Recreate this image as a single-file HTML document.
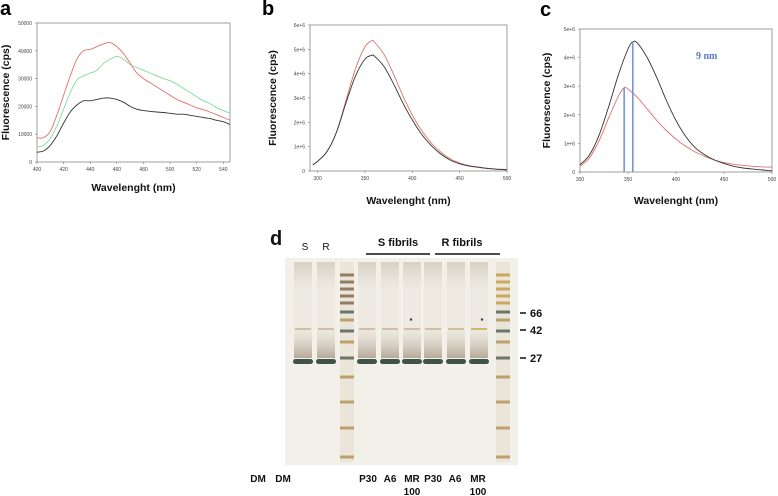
<!DOCTYPE html>
<html><head><meta charset="utf-8"><style>
html,body{margin:0;padding:0;background:#fff;}
svg{display:block;font-family:"Liberation Sans",Arial,sans-serif;}
</style></head><body>
<svg id="fig" width="778" height="496" viewBox="0 0 778 496">
<defs>
<linearGradient id="smear" x1="0" y1="0" x2="0" y2="1">
<stop offset="0" stop-color="#b5ab95" stop-opacity="0.45"/>
<stop offset="0.3" stop-color="#d8d2c2" stop-opacity="0.2"/>
<stop offset="0.7" stop-color="#d8d0c0" stop-opacity="0.2"/>
<stop offset="1" stop-color="#9a8a76" stop-opacity="0.7"/>
</linearGradient>
</defs>
<g id="g-a"></g>
<g id="g-b"></g>
<g id="g-c"></g>
<g id="g-d"></g>
</svg>
<script>
// Panel a data
const aWave=[400,405,410,415,420,425,430,435,440,445,450,455,460,465,470,475,480,485,490,495,500,505,510,515,520,525,530,535,540,545];
const aBlack=[3500,4000,6000,9500,14000,18000,20500,22000,22000,22500,23000,23000,22500,21500,20000,19000,18500,18200,18000,17800,17500,17200,17200,16800,16400,16000,15600,15000,14500,13500];
const aRed=[8700,8800,11000,17000,24000,31000,37000,40000,40500,41500,42500,43000,41500,39000,35500,32000,30000,28500,27000,25500,24000,22500,21500,20500,19500,18800,18000,17000,16000,15000];
const aGreen=[5300,6000,8500,13000,19000,25000,29500,31000,32000,33000,35500,37000,38000,37000,35000,34000,33000,32000,31000,30000,29200,28000,26500,25000,23500,22000,21000,19500,18500,17500];
const aXTicks=[400,420,440,460,480,500,520,540];
const aYTicks=[0,10000,20000,30000,40000,50000];
const aYLabels=["0","10000","20000","30000","40000","50000"];
// Panel b data (x1e6)
const bWave=[295,300,310,320,330,340,350,357,360,370,380,390,400,410,420,430,440,450,460,470,480,490,500];
const bBlack=[0.25,0.4,0.8,1.6,2.8,3.9,4.6,4.75,4.72,4.3,3.6,2.8,2.1,1.5,1.05,0.7,0.45,0.3,0.2,0.15,0.1,0.07,0.05];
const bRed=[0.25,0.4,0.8,1.6,2.9,4.2,5.1,5.35,5.3,4.8,4.0,3.1,2.3,1.65,1.15,0.78,0.5,0.33,0.22,0.16,0.11,0.08,0.06];
const bXTicks=[300,350,400,450,500];
const bYTicks=[0,1,2,3,4,5,6];
const bYLabels=["0","1e+6","2e+6","3e+6","4e+6","5e+6","6e+6"];
// Panel c data (x1e6)
const cWaveK=[300,310,320,330,340,350,355,360,370,380,390,400,410,420,430,440,450,460,470,480,490,500];
const cBlack=[0.25,0.6,1.3,2.3,3.4,4.3,4.55,4.5,4.0,3.3,2.5,1.8,1.25,0.85,0.6,0.42,0.3,0.2,0.14,0.1,0.07,0.04];
const cWaveR=[300,310,320,330,340,346,350,360,370,380,390,400,410,420,430,440,450,460,470,480,490,500];
const cRed=[0.2,0.5,1.1,1.9,2.65,2.95,2.9,2.6,2.2,1.8,1.45,1.15,0.9,0.7,0.55,0.42,0.33,0.27,0.23,0.2,0.18,0.17];
const cPeaks=[346,355];
const cPeakVals=[2.95,4.55];
const cXTicks=[300,350,400,450,500];
const cYTicks=[0,1,2,3,4,5];
const cYLabels=["0","1e+6","2e+6","3e+6","4e+6","5e+6"];

const NS="http://www.w3.org/2000/svg";
function mk(parent,tag,attrs,text){const e=document.createElementNS(NS,tag);for(const k in attrs)e.setAttribute(k,attrs[k]);if(text!==undefined)e.textContent=text;parent.appendChild(e);return e;}
function smooth(pts){
  let d='M'+pts[0][0].toFixed(1)+','+pts[0][1].toFixed(1);
  for(let i=0;i<pts.length-1;i++){
    const p0=pts[Math.max(0,i-1)],p1=pts[i],p2=pts[i+1],p3=pts[Math.min(pts.length-1,i+2)];
    const c1=[p1[0]+(p2[0]-p0[0])/6,p1[1]+(p2[1]-p0[1])/6];
    const c2=[p2[0]-(p3[0]-p1[0])/6,p2[1]-(p3[1]-p1[1])/6];
    d+='C'+c1[0].toFixed(1)+','+c1[1].toFixed(1)+' '+c2[0].toFixed(1)+','+c2[1].toFixed(1)+' '+p2[0].toFixed(1)+','+p2[1].toFixed(1);
  }
  return d;
}

function panel(g,o){
  const xs=v=>o.x0+(v-o.xmin)/(o.xmax-o.xmin)*(o.x1-o.x0);
  const ys=v=>o.y1-(v-o.ymin)/(o.ymax-o.ymin)*(o.y1-o.y0);
  let t=mk(g,'text',{x:o.lx,y:o.ly,'font-size':20,'font-weight':'bold',fill:'#000'},o.letter);
  
  
  let r=mk(g,'rect',{x:o.x0,y:o.y0,width:o.x1-o.x0,height:o.y1-o.y0,fill:'none',stroke:'#888','stroke-width':0.8});
  
  
  o.xt.forEach(v=>{
    mk(g,'line',{x1:xs(v),x2:xs(v),y1:o.y1,y2:o.y1+2,stroke:'#777','stroke-width':0.6});
    let l=mk(g,'text',{x:xs(v),y:o.y1+9,'font-size':5,'text-anchor':'middle',fill:'#444'},String(v));
    
    
  });
  o.yt.forEach((v,i)=>{
    mk(g,'line',{x1:o.x0-2,x2:o.x0,y1:ys(v),y2:ys(v),stroke:'#777','stroke-width':0.6});
    let l=mk(g,'text',{x:o.x0-5,y:ys(v)+2,'font-size':5,'text-anchor':'end',fill:'#444'},o.yl[i]);
    
    
  });
  let xt=mk(g,'text',{x:(o.x0+o.x1)/2,y:o.xty,'font-size':10.5,'font-weight':'bold','text-anchor':'middle',fill:'#111'},'Wavelenght  (nm)');
  
  
  let yt=mk(g,'text',{x:0,y:0,'font-size':10.5,'font-weight':'bold','text-anchor':'middle',fill:'#111',transform:`translate(${o.ytx},${(o.y0+o.y1)/2}) rotate(-90)`},'Fluorescence   (cps)');
  
  
  o.series.forEach(s=>{
    const pts=s.x.map((v,i)=>[xs(v),ys(s.y[i])]);
    let p=mk(g,'path',{d:smooth(pts),fill:'none',stroke:s.c,'stroke-width':0.9});
    
    
  });
  return {xs,ys};
}
panel(document.getElementById('g-a'),{letter:'a',lx:0,ly:15,x0:37,x1:230,y0:23,y1:162,xmin:400,xmax:545,ymin:0,ymax:50000,xt:aXTicks,yt:aYTicks,yl:aYLabels,xty:191,ytx:9,
 series:[{x:aWave,y:aGreen,c:'#7fdc9a',n:'green-spectrum'},{x:aWave,y:aRed,c:'#e0706e',n:'red-spectrum'},{x:aWave,y:aBlack,c:'#333',n:'black-spectrum'}]});
panel(document.getElementById('g-b'),{letter:'b',lx:262,ly:15,x0:310,x1:507,y0:25,y1:171,xmin:292,xmax:500,ymin:0,ymax:6,xt:bXTicks,yt:bYTicks,yl:bYLabels,xty:204,ytx:276,
 series:[{x:bWave,y:bRed,c:'#e0706e',n:'red-spectrum'},{x:bWave,y:bBlack,c:'#333',n:'black-spectrum'}]});
const c=panel(document.getElementById('g-c'),{letter:'c',lx:540,ly:16,x0:580,x1:772,y0:29,y1:172,xmin:300,xmax:500,ymin:0,ymax:5,xt:cXTicks,yt:cYTicks,yl:cYLabels,xty:204,ytx:550,
 series:[{x:cWaveR,y:cRed,c:'#e0706e',n:'red-spectrum'},{x:cWaveK,y:cBlack,c:'#333',n:'black-spectrum'}]});
(function(){
  const g=document.getElementById('g-c');
  cPeaks.forEach((v,i)=>{
    let l=mk(g,'line',{x1:c.xs(v),x2:c.xs(v),y1:c.ys(0),y2:c.ys(cPeakVals[i]),stroke:'#6f8fd8','stroke-width':1.5});
    
    
  });
  let t=mk(g,'text',{x:696,y:59,'font-size':10,'font-family':'Liberation Serif,serif','font-weight':'bold',fill:'#5b7bc6'},'9 nm');
  
  
})();

// Panel d gel
const laneX=[303,326,347,367,390,412,433,456,479,503];
const ladderBands=[275,282,289,296,303,312,320,331,342,358,377,402,428,457];
(function(){
  const g=document.getElementById('g-d');
  const T=(x,y,s,txt,name,a,w)=>{let e=mk(g,'text',{x:x,y:y,'font-size':s,'font-weight':w||'bold','text-anchor':a||'middle',fill:'#111'},txt);return e;};
  T(270,245,20,'d','panel-letter','start');
  mk(g,'rect',{x:285,y:258,width:233,height:207,fill:'#f3f0e9'});
  laneX.forEach((x,i)=>{
    const lad=(i===2||i===9);
    if(lad){
      mk(g,'rect',{x:x-7,y:262,width:14,height:200,fill:'#c9b58e',opacity:0.18});
      ladderBands.forEach((y,j)=>{
        let b=mk(g,'rect',{x:x-7,y:y-1.5,width:14,height:3,fill:(j<5?(i===9?'#c29a3e':'#7a6444'):(y===312||y===331||y===358?'#4a5a4e':'#b09050')),opacity:0.8});
        
        
      });
    } else {
      let s=mk(g,'rect',{x:x-9,y:262,width:18,height:96,fill:'url(#smear)'});
      
      
      let b=mk(g,'rect',{x:x-10,y:359,width:20,height:5,rx:2.5,fill:'#3f5348'});
      
      
      let b2=mk(g,'rect',{x:x-8,y:328,width:16,height:2,fill:(i===8?'#d2b66a':'#cdbfa2')});
      
      
    }
  });
  T(411,323,7,'*','asterisk');T(482,323,7,'*','asterisk');
  T(305,250,10,'S','label-s','middle','normal');T(326,250,10,'R','label-r','middle','normal');
  T(398,246,11,'S fibrils','label-s-fibrils');T(462,246,11,'R fibrils','label-r-fibrils');
  mk(g,'line',{x1:366,x2:430,y1:254,y2:254,stroke:'#111','stroke-width':1.5});
  mk(g,'line',{x1:435,x2:500,y1:254,y2:254,stroke:'#111','stroke-width':1.5});
  [['66',313],['42',330],['27',358]].forEach(m=>{
    mk(g,'line',{x1:520,x2:526,y1:m[1],y2:m[1],stroke:'#111','stroke-width':1.5});
    T(530,m[1]+4,11,m[0],'marker-label','start');
  });
  [['DM',258],['DM',283],['P30',368],['A6',390],['MR',412],['P30',433],['A6',455],['MR',478]].forEach(l=>T(l[1],482,10,l[0],'lane-label'));
  T(412,495,10,'100','lane-label');T(478,495,10,'100','lane-label');
})();
</script>
</body></html>
